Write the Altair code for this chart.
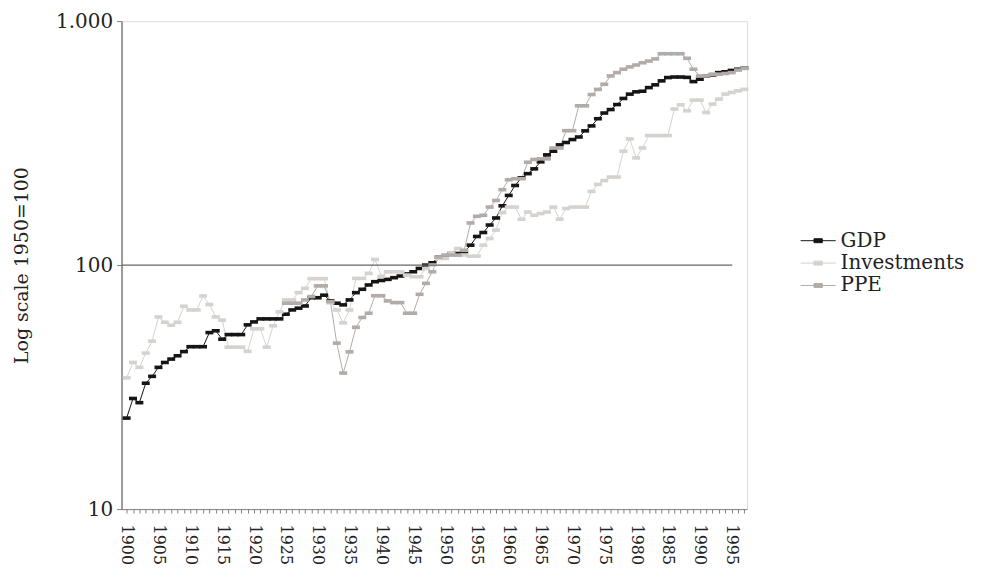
import altair as alt
import pandas as pd

years = list(range(1900, 1998))

gdp = (
    [23.6, 28.4, 27.3, 32.8, 35.0, 38.1, 39.9, 41.2, 42.5, 44.2]
    + [46.3, 46.3, 46.3, 52.9, 53.8, 49.7, 51.9, 51.9, 51.9, 56.9]
    + [58.5, 60.2, 60.2, 60.2, 60.2, 62.9, 65.5, 66.6, 68.0, 73.5]
    + [73.5, 75.3, 71.3, 69.8, 68.7, 72.0, 77.1, 79.6, 82.9, 85.5]
    + [86.5, 87.4, 88.8, 90.2, 92.0, 93.9, 96.9, 100.0, 102.2, 107.8]
    + [107.8, 111.6, 111.6, 113.0, 120.7, 131, 136, 146, 156, 175]
    + [193, 212, 228, 237, 248, 265, 283, 293, 311, 318]
    + [327, 335, 355, 372, 398, 420, 434, 455, 482, 502]
    + [513, 516, 534, 548, 569, 587, 590, 590, 588, 565]
    + [578, 595, 602, 615, 620, 628, 635, 641]
)

investments = (
    [34.5, 39.9, 38.1, 43.6, 48.8, 61.3, 58.3, 56.7, 58.3, 67.8]
    + [65.5, 65.5, 74.7, 68.9, 61.3, 59.5, 46.1, 46.1, 46.1, 44.3]
    + [54.8, 54.8, 46.1, 56.4, 64.3, 72.0, 72.0, 77.1, 80.3, 88.0]
    + [88.0, 88.0, 70.0, 65.5, 58.0, 65.5, 88.2, 88.2, 92.5, 105.5]
    + [90.0, 93.9, 93.9, 93.9, 91.0, 89.6, 89.6, 96.9, 100.0, 106.5]
    + [106.5, 112, 116.9, 110, 108.8, 108.8, 120.7, 128.5, 139.1, 164.2]
    + [172.9, 172.9, 154.2, 165, 160, 162.6, 165, 172.9, 154.2, 170.6]
    + [172.9, 172.9, 172.9, 200.4, 214.2, 222, 229.5, 229.5, 292.8, 328.9]
    + [275, 302, 339.6, 339.6, 339.6, 339.6, 436, 454, 429, 474.6]
    + [474.6, 422, 457, 479, 502, 510, 518, 525]
)

ppe = (
    [None] * 25
    + [69.8, 69.8, 69.8, 72.0, 74.3]
    + [82.2, 82.2, 70.8, 47.9, 36.1, 44.1, 55.6, 61.0, 63.5, 74.9]
    + [74.9, 71.3, 70.2, 70.2, 63.5, 63.5, 75.9, 84.2, 93.9, 108]
    + [109.9, 109.9, 109.9, 115, 148.8, 158.5, 160, 172.9, 184.1, 203.7]
    + [223.8, 225.9, 226, 264, 271, 272.6, 272.6, 302, 302, 355.6]
    + [355.6, 449.6, 449.6, 500, 525, 551, 596, 615, 635, 649]
    + [661, 675, 686, 700, 735, 735, 735, 735, 704, 635]
    + [596, 596, 606, 606, 610, 615, 630, 640]
)

series_names = ["GDP", "Investments", "PPE"]
series_colors = ["#151515", "#d6d2cf", "#b2aba8"]
y_ticks = [10, 100, 1000]
reference_level = [100]
reference_span = [1899.2, 1995.1]

rows = []
for name, vals in zip(series_names, [gdp, investments, ppe]):
    for yr, v in zip(years, vals):
        if v is not None:
            rows.append({"year": yr, "value": v, "series": name})
df = pd.DataFrame(rows)

FONT = "DejaVu Serif"
TEXT = "#222222"
color_scale = alt.Scale(domain=series_names, range=series_colors)

x_scale = alt.Scale(domain=[1899.2, 1997.4], nice=False, zero=False)
y_scale = alt.Scale(type="log", domain=[10, 1000], nice=False)

x_axis = alt.Axis(
    values=years,
    labelExpr="datum.value % 5 == 0 ? '' + datum.value : ''",
    labelAngle=90,
    labelOverlap=False,
    labelFlush=False,
    labelBound=False,
    tickSize=4,
    tickColor="#808080",
    domainColor="#808080",
    labelPadding=11,
    labelFont=FONT,
    labelFontSize=16,
    labelColor=TEXT,
    title=None,
    grid=False,
)
y_axis = alt.Axis(
    values=y_ticks,
    labelExpr="datum.value == 1000 ? '1.000' : '' + datum.value",
    tickSize=5,
    tickColor="#808080",
    domainColor="#808080",
    domainWidth=1.5,
    labelPadding=4,
    labelFont=FONT,
    labelFontSize=20,
    labelColor=TEXT,
    title="Log scale 1950=100",
    titleFont=FONT,
    titleFontSize=19,
    titleFontWeight="normal",
    titleColor=TEXT,
    titlePadding=24,
    grid=False,
)

legend = alt.Legend(
    title=None,
    orient="none",
    legendX=688,
    legendY=209,
    symbolType="M-1.6,0H1.6M-0.38,-0.18H0.38V0.18H-0.38Z",
    symbolSize=484,
    symbolStrokeWidth=1,
    labelFont=FONT,
    labelFontSize=20,
    labelColor=TEXT,
    labelOffset=11,
    rowPadding=0.5,
    padding=0,
)

base = alt.Chart(df).encode(
    x=alt.X("year:Q", scale=x_scale, axis=x_axis),
    y=alt.Y("value:Q", scale=y_scale, axis=y_axis),
)

lines = base.mark_line(strokeWidth=1).encode(
    stroke=alt.Stroke("series:N", scale=color_scale, legend=legend),
    detail="series:N",
)

points = base.mark_point(
    filled=True,
    shape="M-1,-0.45H1V0.45H-1Z",
    size=64,
    opacity=1,
).encode(
    fill=alt.Fill("series:N", scale=color_scale, legend=legend),
)

ref = (
    alt.Chart(pd.DataFrame({"value": reference_level, "year": [reference_span[0]], "year2": [reference_span[1]]}))
    .mark_rule(color="#666666", strokeWidth=1.2)
    .encode(
        y=alt.Y("value:Q", scale=y_scale, axis=y_axis),
        x=alt.X("year:Q", scale=x_scale, axis=x_axis),
        x2="year2:Q",
    )
)

chart = (
    alt.layer(lines, points, ref)
    .properties(
        width=628,
        height=490,
        autosize=alt.AutoSizeParams(type="none"),
        padding={"left": 114, "top": 12, "right": 228, "bottom": 60},
    )
    .configure_view(stroke=None)
    .configure(background="white")
)

chart.save("out.html", embed_options={"renderer": "svg", "actions": False})
